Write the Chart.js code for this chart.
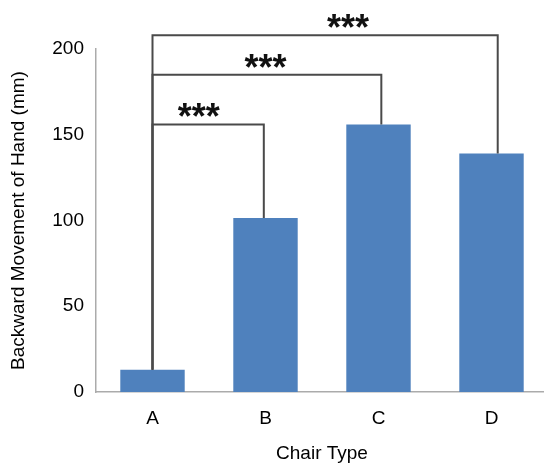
<!DOCTYPE html>
<html lang="en">
<head>
    <meta charset="UTF-8">
    <title>Backward Movement of Hand</title>
    <script src="https://cdn.jsdelivr.net/npm/chart.js"></script>
    <style>
        html, body { margin: 0; padding: 0; background: #fff; overflow: hidden; }
        #wrap { width: 550px; height: 465px; position: relative; }
    </style>
</head>
<body>
    <div id="wrap"><canvas id="myChart"></canvas></div>

    <script>
        // chart data
        const chairTypes = ["A", "B", "C", "D"];
        const movement = [13, 101.5, 156, 139];
        const yTicks = [0, 50, 100, 150, 200];

        // significance brackets (category index from / to, bracket level in mm)
        const bracketFrom = [0, 0, 0];
        const bracketTo = [1, 2, 3];
        const bracketLevel = [156, 185, 208];
        const bracketText = ["***", "***", "***"];
        const starPos = [0.41, 1.0, 1.73];

        const fontFam = '"Liberation Sans", Arial, sans-serif';
        const endShift = [0, -0.015, 0.025, 0.055];

        const brackets = {
            id: 'brackets',
            afterDraw(chart) {
                const ctx = chart.ctx;
                const xs = chart.scales.x;
                const ys = chart.scales.y;
                ctx.save();
                ctx.strokeStyle = '#4a4a4a';
                ctx.lineWidth = 2;
                for (let i = 0; i < bracketFrom.length; i++) {
                    const a = bracketFrom[i], b = bracketTo[i];
                    const x1 = xs.getPixelForValue(a + endShift[a]);
                    const x2 = xs.getPixelForValue(b + endShift[b]);
                    const yl = ys.getPixelForValue(bracketLevel[i]);
                    ctx.beginPath();
                    ctx.moveTo(x1, ys.getPixelForValue(movement[a]));
                    ctx.lineTo(x1, yl);
                    ctx.lineTo(x2, yl);
                    ctx.lineTo(x2, ys.getPixelForValue(movement[b]));
                    ctx.stroke();

                    ctx.fillStyle = '#111';
                    ctx.font = 'bold 36px ' + fontFam;
                    ctx.textAlign = 'center';
                    ctx.textBaseline = 'alphabetic';
                    const m = ctx.measureText(bracketText[i]);
                    const cy = yl - 14;
                    const base = cy - (m.actualBoundingBoxDescent - m.actualBoundingBoxAscent) / 2;
                    ctx.fillText(bracketText[i], xs.getPixelForValue(starPos[i]), base);
                }
                ctx.restore();
            }
        };

        let data = {
            labels: chairTypes,
            datasets: [
                {
                    label: "Backward Movement",
                    data: movement,
                    backgroundColor: '#4f81bd',
                    borderWidth: 0,
                    categoryPercentage: 1.0,
                    barPercentage: 0.57
                }
            ]
        };

        let configs = {
            type: 'bar',
            data: data,
            plugins: [brackets],
            options: {
                responsive: true,
                maintainAspectRatio: false,
                animation: false,
                layout: { padding: { top: 49, right: 2, left: 0, bottom: 0 } },
                plugins: {
                    legend: { display: false },
                    tooltip: { enabled: false }
                },
                scales: {
                    x: {
                        afterFit(s) { s.height = 73; },
                        grid: { display: false, drawTicks: false },
                        border: { display: true, color: '#ababab', width: 1.5 },
                        ticks: {
                            color: '#000',
                            padding: 15,
                            font: { family: fontFam, size: 19 }
                        },
                        title: {
                            display: true,
                            text: 'Chair Type',
                            color: '#000',
                            padding: { top: 0, bottom: 0 },
                            font: { family: fontFam, size: 19 }
                        }
                    },
                    y: {
                        min: 0,
                        max: 200,
                        afterFit(s) { s.width = 96; },
                        afterBuildTicks(s) { s.ticks = yTicks.map(v => ({ value: v })); },
                        grid: { display: false, drawTicks: false },
                        border: { display: true, color: '#ababab', width: 1.5 },
                        ticks: {
                            color: '#000',
                            padding: 12,
                            font: { family: fontFam, size: 19 }
                        },
                        title: {
                            display: true,
                            text: 'Backward Movement of Hand (mm)',
                            color: '#000',
                            padding: { top: 7, bottom: 0 },
                            font: { family: fontFam, size: 19 }
                        }
                    }
                }
            }
        };

        new Chart(document.getElementById('myChart'), configs);
    </script>
</body>
</html>
